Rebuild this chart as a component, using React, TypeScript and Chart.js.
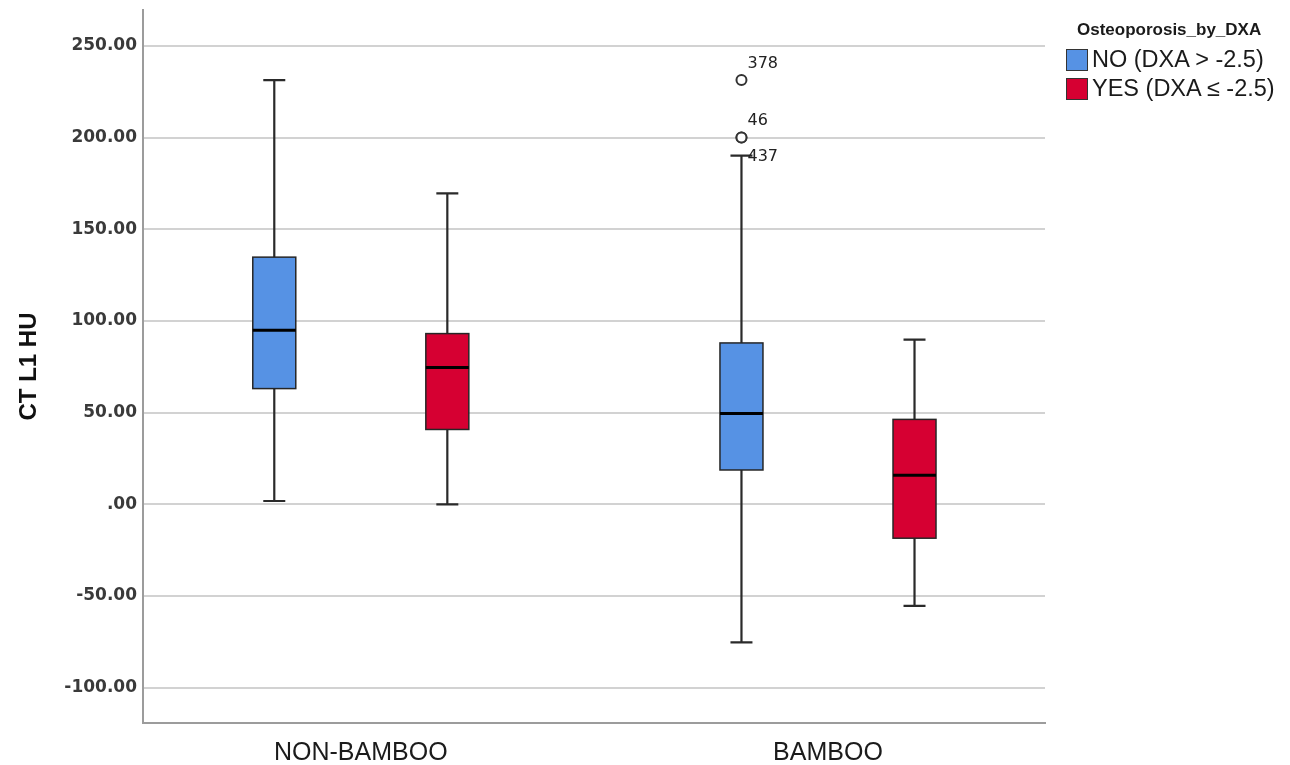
import React, { useEffect, useRef } from 'react';
import { Chart, registerables } from 'chart.js';

Chart.register(...registerables);

// ---------- data ----------
const CATEGORIES = ['NON-BAMBOO', 'BAMBOO'];
const LEGEND_TITLE = 'Osteoporosis_by_DXA';
const SERIES_NAMES = ['NO (DXA > -2.5)', 'YES (DXA ≤ -2.5)'];
const Y_TITLE = 'CT L1 HU';

// NO (DXA > -2.5): values per category
const NO_MIN = [1.8, -75.3];
const NO_Q1 = [63.1, 18.7];
const NO_MEDIAN = [94.9, 49.5];
const NO_Q3 = [134.8, 88.0];
const NO_MAX = [231.4, 190.2];

// YES (DXA <= -2.5): values per category
const YES_MIN = [0.0, -55.4];
const YES_Q1 = [40.8, -18.5];
const YES_MEDIAN = [74.6, 15.9];
const YES_Q3 = [93.1, 46.3];
const YES_MAX = [169.6, 89.8];

// outliers (BAMBOO, NO group)
const OUTLIER_VALUES = [231.4, 200.1, 200.0];
const OUTLIER_IDS = ['378', '46', '437'];
const OUTLIER_CATEGORY = [1, 1, 1];
const OUTLIER_SERIES = [0, 0, 0];

const Y_TICKS = [-100, -50, 0, 50, 100, 150, 200, 250];
const Y_TICK_LABELS = ['-100.00', '-50.00', '.00', '50.00', '100.00', '150.00', '200.00', '250.00'];
const Y_MIN = -119.3;
const Y_MAX = 269.6;
const X_MIN = 0.5338;
const X_MAX = 2.4645;

// ---------- style ----------
const SERIES_COLORS = ['#5692e4', '#d60032'];
const GRID_COLOR = '#d2d2d2';
const AXIS_COLOR = '#9c9c9c';
const BOX_WIDTH = 43;
const CAP_WIDTH = 22;
const SERIES_OFFSET = 0.1852; // fraction of category spacing
const LABEL_PLACEMENT = ['above', 'above', 'below'];

const STATS = [
  { min: NO_MIN, q1: NO_Q1, median: NO_MEDIAN, q3: NO_Q3, max: NO_MAX },
  { min: YES_MIN, q1: YES_Q1, median: YES_MEDIAN, q3: YES_Q3, max: YES_MAX },
];

const boxplotPlugin = {
  id: 'boxplotDraw',
  afterDatasetsDraw(chart: any) {
    const { ctx } = chart;
    const xs = chart.scales.x;
    const ys = chart.scales.y;
    const spacing = xs.getPixelForValue(2) - xs.getPixelForValue(1);
    const centerX = (cat: number, s: number) =>
      xs.getPixelForValue(cat + 1) + (s === 0 ? -1 : 1) * SERIES_OFFSET * spacing;

    ctx.save();
    STATS.forEach((st, s) => {
      CATEGORIES.forEach((_, i) => {
        const cx = centerX(i, s);
        const yMin = ys.getPixelForValue(st.min[i]);
        const yQ1 = ys.getPixelForValue(st.q1[i]);
        const yMed = ys.getPixelForValue(st.median[i]);
        const yQ3 = ys.getPixelForValue(st.q3[i]);
        const yMax = ys.getPixelForValue(st.max[i]);

        ctx.strokeStyle = '#2a2a2a';
        ctx.lineWidth = 2.2;
        ctx.beginPath();
        ctx.moveTo(cx, yMax);
        ctx.lineTo(cx, yQ3);
        ctx.moveTo(cx, yQ1);
        ctx.lineTo(cx, yMin);
        ctx.moveTo(cx - CAP_WIDTH / 2, yMax);
        ctx.lineTo(cx + CAP_WIDTH / 2, yMax);
        ctx.moveTo(cx - CAP_WIDTH / 2, yMin);
        ctx.lineTo(cx + CAP_WIDTH / 2, yMin);
        ctx.stroke();

        ctx.fillStyle = SERIES_COLORS[s];
        ctx.fillRect(cx - BOX_WIDTH / 2, yQ3, BOX_WIDTH, yQ1 - yQ3);
        ctx.lineWidth = 1.5;
        ctx.strokeStyle = '#262626';
        ctx.strokeRect(cx - BOX_WIDTH / 2, yQ3, BOX_WIDTH, yQ1 - yQ3);

        ctx.lineWidth = 3;
        ctx.strokeStyle = '#000000';
        ctx.beginPath();
        ctx.moveTo(cx - BOX_WIDTH / 2, yMed);
        ctx.lineTo(cx + BOX_WIDTH / 2, yMed);
        ctx.stroke();
      });
    });

    OUTLIER_VALUES.forEach((v, k) => {
      const cx = centerX(OUTLIER_CATEGORY[k], OUTLIER_SERIES[k]);
      const cy = ys.getPixelForValue(v);
      ctx.beginPath();
      ctx.arc(cx, cy, 5, 0, Math.PI * 2);
      ctx.fillStyle = '#ffffff';
      ctx.fill();
      ctx.lineWidth = 2;
      ctx.strokeStyle = '#333333';
      ctx.stroke();
      ctx.font = '16px "DejaVu Sans"';
      ctx.fillStyle = '#222222';
      ctx.textAlign = 'left';
      ctx.textBaseline = 'alphabetic';
      const dy = LABEL_PLACEMENT[k] === 'above' ? -12 : 23;
      ctx.fillText(OUTLIER_IDS[k], cx + 6, cy + dy);
    });
    ctx.restore();
  },
};

export default function App() {
  const canvasRef = useRef<HTMLCanvasElement | null>(null);

  useEffect(() => {
    if (!canvasRef.current) return;
    const chart = new Chart(canvasRef.current, {
      type: 'scatter',
      data: { datasets: [] },
      options: {
        responsive: false,
        animation: false,
        layout: { padding: { left: 0, top: 10, right: 245, bottom: 0 } },
        plugins: { legend: { display: false }, tooltip: { enabled: false } },
        scales: {
          x: {
            type: 'linear',
            min: X_MIN,
            max: X_MAX,
            afterBuildTicks: (sc: any) => {
              sc.ticks = CATEGORIES.map((_, i) => ({ value: i + 1 }));
            },
            afterFit: (sc: any) => {
              sc.height = 42;
              sc.paddingLeft = 0;
              sc.paddingRight = 0;
            },
            grid: { display: false, drawTicks: false },
            border: { display: true, color: AXIS_COLOR, width: 2 },
            ticks: {
              autoSkip: false,
              maxRotation: 0,
              padding: 15,
              color: '#1b1b1b',
              font: { family: '"Liberation Sans", Arial, sans-serif', size: 25 },
              callback: (v: any) => CATEGORIES[Math.round(Number(v)) - 1] ?? '',
            },
          },
          y: {
            type: 'linear',
            min: Y_MIN,
            max: Y_MAX,
            afterBuildTicks: (sc: any) => {
              sc.ticks = Y_TICKS.map((v) => ({ value: v }));
            },
            afterFit: (sc: any) => {
              sc.width = 143;
              sc.paddingTop = 0;
              sc.paddingBottom = 0;
            },
            grid: { color: GRID_COLOR, lineWidth: 2, drawTicks: false },
            border: { display: true, color: AXIS_COLOR, width: 2 },
            ticks: {
              padding: 6,
              color: '#3a3a3a',
              font: { family: '"DejaVu Sans", sans-serif', size: 17, weight: 'bold' },
              callback: (v: any) => {
                const idx = Y_TICKS.indexOf(Number(v));
                return idx >= 0 ? Y_TICK_LABELS[idx] : '';
              },
            },
            title: {
              display: true,
              text: Y_TITLE,
              color: '#111111',
              font: { family: '"Liberation Sans", Arial, sans-serif', size: 24, weight: 'bold' },
              padding: { top: 15, bottom: 0 },
            },
          },
        },
      },
      plugins: [boxplotPlugin],
    } as any);
    return () => chart.destroy();
  }, []);

  const legendFont = '"Liberation Sans", Arial, sans-serif';
  const rowTops = [47, 76];
  const swatchTops = [49, 78];

  return (
    <div
      style={{
        position: 'fixed',
        left: 0,
        top: 0,
        width: 1290,
        height: 765,
        background: '#ffffff',
        overflow: 'hidden',
      }}
    >
      <canvas ref={canvasRef} width={1290} height={765} style={{ position: 'absolute', left: 0, top: 0 }} />
      <div
        style={{
          position: 'absolute',
          left: 1077,
          top: 21,
          fontFamily: legendFont,
          fontWeight: 'bold',
          fontSize: 17,
          lineHeight: '17px',
          color: '#1a1a1a',
          whiteSpace: 'nowrap',
        }}
      >
        {LEGEND_TITLE}
      </div>
      {SERIES_NAMES.map((name, i) => (
        <React.Fragment key={name}>
          <div
            style={{
              position: 'absolute',
              left: 1066,
              top: swatchTops[i],
              width: 22,
              height: 22,
              boxSizing: 'border-box',
              border: '1.5px solid #333',
              background: SERIES_COLORS[i],
            }}
          />
          <div
            style={{
              position: 'absolute',
              left: 1092,
              top: rowTops[i],
              fontFamily: legendFont,
              fontSize: 23.5,
              lineHeight: '25px',
              color: '#1a1a1a',
              whiteSpace: 'nowrap',
            }}
          >
            {name}
          </div>
        </React.Fragment>
      ))}
    </div>
  );
}
